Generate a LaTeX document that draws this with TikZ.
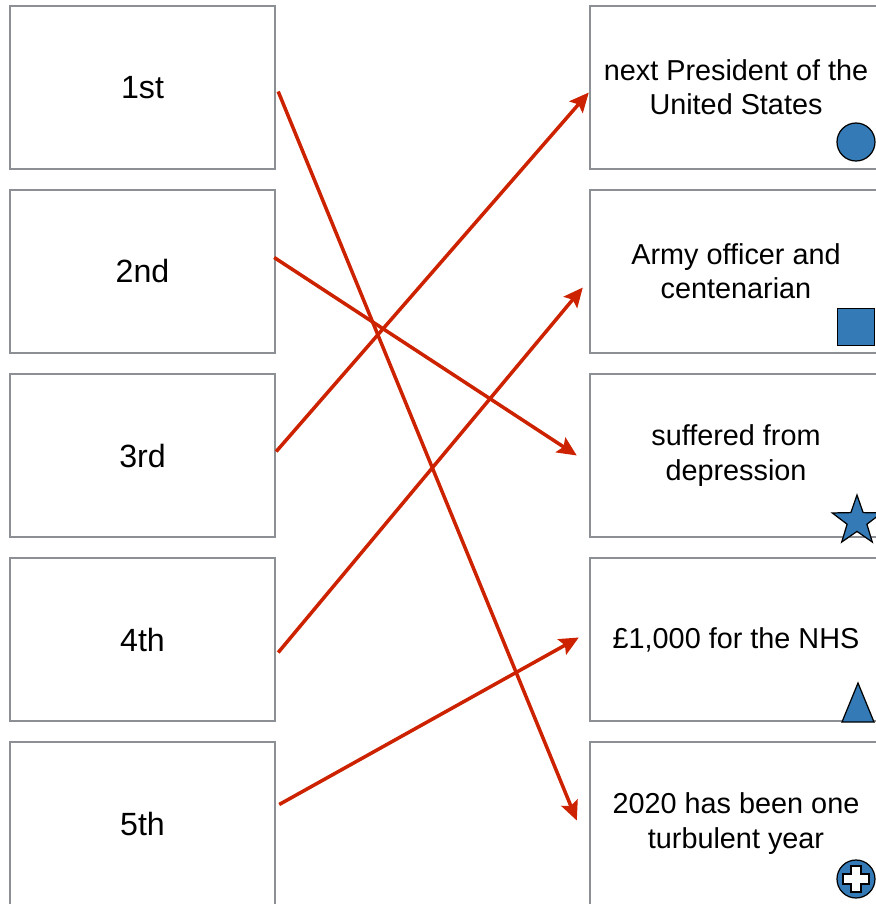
\documentclass[tikz,border=0pt]{standalone}
\usepackage{fontspec}
\setmainfont{Liberation Sans}
\usetikzlibrary{calc,shapes.geometric,arrows.meta}
\tikzset{>={Stealth[length=11pt,width=10pt,inset=2pt]}}
\definecolor{boxgray}{RGB}{140,143,148}
\definecolor{linkred}{RGB}{204,34,0}
\definecolor{markblue}{RGB}{52,122,182}
\tikzset{
  leftbox/.style={draw=boxgray,line width=1.4pt,inner sep=0pt,minimum width=5.3cm,minimum height=3.26cm,font=\fontsize{18.3}{21}\selectfont},
  rightbox/.style={leftbox,minimum width=5.84cm,align=center,font=\fontsize{16.4}{19.4}\selectfont},
  link/.style={->,draw=linkred,line width=2pt},
  markshape/.style={fill=markblue,draw=black,line width=0.7pt,inner sep=0pt}
}

\begin{document}
\begin{tikzpicture}[x=0.02cm,y=-0.02cm]
\useasboundingbox (0,0) rectangle (876,904);
\clip (0,0) rectangle (876,904);
% left column
    \node[leftbox] (l1) at (142.5,87.5) {1st};
    \node[leftbox] (l2) at (142.5,271.5) {2nd};
    \node[leftbox] (l3) at (142.5,455.5) {3rd};
    \node[leftbox] (l4) at (142.5,639.5) {4th};
    \node[leftbox] (l5) at (142.5,823.5) {5th};
% right column
    \node[rightbox] (r1) at (736,87.5) {next President of the\\United States};
    \node[rightbox] (r2) at (736,271.5) {Army officer and\\centenarian};
    \node[rightbox] (r3) at (736,455.5) {suffered from\\depression};
    \node[rightbox] (r4) at (736,639.5) {£1,000 for the NHS};
    \node[rightbox] (r5) at (736,823.5) {2020 has been one\\turbulent year};
% symbols
    \node[markshape,circle,minimum size=0.76cm] (m1) at (856,142) {};
    \node[markshape,rectangle,minimum size=0.74cm] (m2) at (856,327) {};
    \node[markshape,star,star points=5,star point ratio=2.5,minimum size=1.04cm] (m3) at (857,521) {};
    \draw[markshape] (842,722) -- (858,683) -- (874,722) -- cycle;
    \node[markshape,circle,minimum size=0.76cm] (m5) at (856,879) {};
    \draw[fill=white,draw=black,line width=0.7pt] (m5) ++(-5,-13) -- ++(10,0) -- ++(0,8) -- ++(8,0) -- ++(0,10)
      -- ++(-8,0) -- ++(0,8) -- ++(-10,0) -- ++(0,-8) -- ++(-8,0) -- ++(0,-10) -- ++(8,0) -- cycle;
% links
    \draw[link] ($(l1.east)+(2,4)$) -- ($(r5.west)+(-12,-3)$);
    \draw[link] ($(l2.east)+(-2,-14)$) -- ($(r3.west)+(-12,0)$);
    \draw[link] ($(l3.east)+(0,-4)$) -- ($(r1.west)+(0,5)$);
    \draw[link] ($(l4.east)+(2,13)$) -- ($(r2.west)+(-6,16)$);
    \draw[link] ($(l5.east)+(3,-19)$) -- ($(r4.west)+(-10,-2)$);
\end{tikzpicture}
\end{document}
